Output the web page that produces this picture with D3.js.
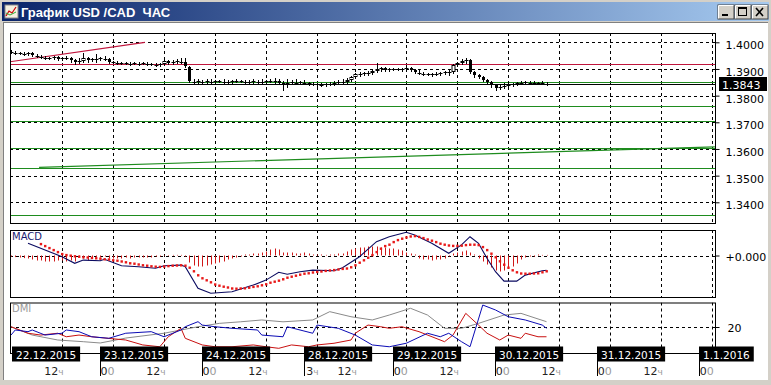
<!DOCTYPE html>
<html><head><meta charset="utf-8">
<script src="https://cdn.jsdelivr.net/npm/d3@7"></script>
<style>body{margin:0;background:#fff;overflow:hidden}svg{display:block}.pre{white-space:pre}</style>
</head><body><svg id="c" width="771" height="385"></svg>
<script>
// ---------------- DATA ----------------
const chartTitle = "График USD /CAD  ЧАС";
const openP = [1.3967,1.3964,1.3960,1.3960,1.3956,1.3960,1.3952,1.3949,1.3945,1.3941,1.3941,1.3945,1.3937,1.3941,1.3941,1.3934,1.3926,1.3930,1.3941,1.3934,1.3937,1.3937,1.3941,1.3937,1.3926,1.3926,1.3922,1.3922,1.3922,1.3919,1.3922,1.3919,1.3922,1.3919,1.3919,1.3915,1.3919,1.3930,1.3922,1.3926,1.3930,1.3926,1.3907,1.3855,1.3851,1.3855,1.3851,1.3855,1.3851,1.3855,1.3855,1.3851,1.3851,1.3855,1.3855,1.3855,1.3851,1.3851,1.3855,1.3851,1.3851,1.3855,1.3855,1.3855,1.3847,1.3840,1.3847,1.3851,1.3847,1.3851,1.3847,1.3847,1.3844,1.3844,1.3840,1.3844,1.3844,1.3847,1.3851,1.3851,1.3859,1.3870,1.3881,1.3881,1.3885,1.3885,1.3892,1.3900,1.3904,1.3896,1.3900,1.3900,1.3900,1.3900,1.3904,1.3896,1.3889,1.3885,1.3881,1.3881,1.3881,1.3881,1.3885,1.3885,1.3889,1.3915,1.3922,1.3930,1.3934,1.3889,1.3877,1.3870,1.3859,1.3851,1.3840,1.3829,1.3832,1.3836,1.3840,1.3844,1.3847,1.3847,1.3851,1.3847,1.3847,1.3847,1.3847];
const highP = [1.3971,1.3967,1.3964,1.3964,1.3964,1.3964,1.3956,1.3952,1.3949,1.3945,1.3949,1.3949,1.3945,1.3949,1.3945,1.3937,1.3941,1.3960,1.3945,1.3941,1.3956,1.3945,1.3949,1.3941,1.3930,1.3930,1.3926,1.3926,1.3926,1.3926,1.3926,1.3926,1.3926,1.3922,1.3922,1.3922,1.3945,1.3934,1.3934,1.3937,1.3941,1.3941,1.3911,1.3862,1.3862,1.3859,1.3862,1.3862,1.3859,1.3859,1.3862,1.3859,1.3859,1.3862,1.3859,1.3859,1.3859,1.3862,1.3859,1.3862,1.3859,1.3862,1.3866,1.3862,1.3855,1.3862,1.3859,1.3862,1.3855,1.3859,1.3851,1.3851,1.3847,1.3847,1.3847,1.3851,1.3855,1.3859,1.3862,1.3866,1.3874,1.3885,1.3889,1.3889,1.3892,1.3900,1.3922,1.3907,1.3907,1.3904,1.3904,1.3904,1.3904,1.3911,1.3907,1.3900,1.3896,1.3889,1.3885,1.3885,1.3889,1.3889,1.3892,1.3896,1.3919,1.3926,1.3937,1.3941,1.3937,1.3892,1.3881,1.3874,1.3862,1.3855,1.3844,1.3840,1.3847,1.3851,1.3847,1.3851,1.3855,1.3855,1.3855,1.3855,1.3851,1.3855,1.3851];
const lowP = [1.3960,1.3956,1.3956,1.3952,1.3952,1.3949,1.3945,1.3941,1.3937,1.3937,1.3937,1.3934,1.3934,1.3937,1.3926,1.3919,1.3922,1.3926,1.3926,1.3930,1.3926,1.3934,1.3934,1.3922,1.3922,1.3919,1.3919,1.3919,1.3915,1.3919,1.3915,1.3919,1.3915,1.3915,1.3911,1.3911,1.3915,1.3919,1.3919,1.3922,1.3922,1.3907,1.3851,1.3847,1.3847,1.3847,1.3847,1.3847,1.3847,1.3851,1.3847,1.3847,1.3847,1.3851,1.3851,1.3847,1.3844,1.3847,1.3847,1.3844,1.3847,1.3851,1.3847,1.3844,1.3821,1.3832,1.3844,1.3844,1.3844,1.3844,1.3840,1.3840,1.3836,1.3836,1.3836,1.3840,1.3840,1.3844,1.3847,1.3847,1.3855,1.3866,1.3874,1.3877,1.3877,1.3881,1.3889,1.3892,1.3892,1.3892,1.3896,1.3896,1.3892,1.3896,1.3892,1.3885,1.3881,1.3877,1.3877,1.3874,1.3877,1.3877,1.3881,1.3877,1.3885,1.3911,1.3919,1.3922,1.3885,1.3870,1.3866,1.3855,1.3844,1.3832,1.3821,1.3825,1.3829,1.3832,1.3836,1.3840,1.3844,1.3844,1.3844,1.3844,1.3844,1.3844,1.3840];
const closeP = [1.3964,1.3960,1.3960,1.3956,1.3960,1.3952,1.3949,1.3945,1.3941,1.3941,1.3945,1.3937,1.3941,1.3941,1.3934,1.3926,1.3930,1.3941,1.3934,1.3937,1.3937,1.3941,1.3937,1.3926,1.3926,1.3922,1.3922,1.3922,1.3919,1.3922,1.3919,1.3922,1.3919,1.3919,1.3915,1.3919,1.3930,1.3922,1.3926,1.3930,1.3926,1.3911,1.3855,1.3851,1.3855,1.3851,1.3855,1.3851,1.3855,1.3855,1.3851,1.3851,1.3855,1.3855,1.3855,1.3851,1.3851,1.3855,1.3851,1.3851,1.3855,1.3855,1.3855,1.3847,1.3840,1.3847,1.3851,1.3847,1.3851,1.3847,1.3847,1.3844,1.3844,1.3840,1.3844,1.3844,1.3847,1.3851,1.3851,1.3859,1.3870,1.3881,1.3881,1.3885,1.3885,1.3892,1.3900,1.3904,1.3896,1.3900,1.3900,1.3900,1.3900,1.3904,1.3896,1.3889,1.3885,1.3881,1.3881,1.3881,1.3881,1.3885,1.3889,1.3889,1.3915,1.3922,1.3930,1.3934,1.3889,1.3877,1.3870,1.3859,1.3851,1.3840,1.3829,1.3832,1.3836,1.3840,1.3844,1.3847,1.3847,1.3851,1.3847,1.3847,1.3847,1.3847,1.3843];

const priceTicks = [1.4000,1.3900,1.3800,1.3700,1.3600,1.3500,1.3400];
const lastPrice = 1.3843;
const redLevels = [1.39175];
const redTrend = [[0,1.3927],[31.5,1.4000]];
const greenLevels = [1.3852,1.3760,1.3705,1.3604,1.3530,1.3352];
const greenTrend = [[6.6,1.3531],[165.6,1.3608]];

const gridIdx = [12,24,36,48,60,72,81,93,105,117,129,141,153,165];
const hourLabels = [["12","ч"],["0","0"],["12","ч"],["0","0"],["12","ч"],["3","ч"],["12","ч"],["0","0"],["12","ч"],["0","0"],["12","ч"],["0","0"],["12","ч"],["0","0"]];
const dayLabels = ["22.12.2015","23.12.2015","24.12.2015","28.12.2015","29.12.2015","30.12.2015","31.12.2015","1.1.2016"];
const dayStartIdx = [0,24,48,72,93,117,141,165];

const macdIdx = [4,12,15,17,21,22,26,30,34,36,40,41,44,47,52,57,60,63,65,68,71,76,78,82,86,89,93,95,99,103,106,108,110,112,114,116,119,121,125,126];
const macdVal = [0.00061,-0.00006,-0.00039,-0.00023,-0.00026,-0.00019,-0.00051,-0.00056,-0.00064,-0.00051,-0.00048,-0.00056,-0.00164,-0.00189,-0.00181,-0.00148,-0.00123,-0.00084,-0.00094,-0.00081,-0.00073,-0.00076,-0.00061,-0.00006,0.00069,0.00094,0.00116,0.00103,0.00061,0.00011,0.00053,0.00094,0.00061,-0.00014,-0.00081,-0.00128,-0.00128,-0.00098,-0.00076,-0.00074];
const signalStart = 7;
const signalVal = [0.00058,0.00048,0.00038,0.00028,0.00018,0.00008,0.00003,0,-0.00003,-0.00005,-0.00008,-0.00009,-0.00011,-0.00013,-0.00015,-0.00018,-0.00019,-0.00023,-0.00025,-0.00029,-0.00033,-0.00038,-0.00040,-0.00044,-0.00048,-0.00050,-0.00053,-0.00055,-0.00056,-0.00054,-0.00052,-0.00050,-0.00049,-0.00048,-0.00050,-0.00060,-0.00078,-0.00098,-0.00113,-0.00123,-0.00133,-0.00144,-0.00150,-0.00155,-0.00159,-0.00164,-0.00165,-0.00164,-0.00163,-0.00160,-0.00156,-0.00153,-0.00148,-0.00143,-0.00135,-0.00130,-0.00125,-0.00118,-0.00110,-0.00105,-0.00100,-0.00095,-0.00090,-0.00088,-0.00084,-0.00081,-0.00079,-0.00076,-0.00074,-0.00072,-0.00069,-0.00066,-0.00064,-0.00058,-0.00048,-0.00035,-0.00023,-0.00010,0.00003,0.00018,0.00035,0.00048,0.00055,0.00068,0.00078,0.00085,0.00091,0.00096,0.00098,0.00094,0.00088,0.00081,0.00075,0.00068,0.00060,0.00055,0.00051,0.00049,0.00049,0.00050,0.00053,0.00055,0.00055,0.00053,0.00043,0.00028,0.00010,-0.00008,-0.00028,-0.00045,-0.00060,-0.00073,-0.00083,-0.00089,-0.00090,-0.00090,-0.00089,-0.00088,-0.00083,-0.00078];
const histVal = [-0.00005,-0.00008,-0.0001,-0.00013,-0.00015,-0.0002,-0.00025,-0.00025,-0.0003,-0.0003,-0.0003,-0.00025,-0.00025,-0.0003,-0.00025,-0.0003,-0.0001,-0.00015,-0.00025,-0.00015,-0.0001,-0.0001,-0.00005,-0.00015,-0.00015,-0.00015,-0.00015,-0.0001,-0.00015,-0.0001,-0.0001,-0.0001,-0.0001,-0.0001,-0.00005,-0.00005,0.00003,-0.00003,0.00003,0.00003,0.00003,-0.00005,-0.00035,-0.0005,-0.00055,-0.00055,-0.0005,-0.00045,-0.0004,-0.00035,-0.0003,-0.0002,-0.00015,-0.0001,-0.00005,0.00005,0.00005,0.0001,0.0001,0.00015,0.0002,0.0003,0.00035,0.0003,0.00015,0.00015,0.00015,0.0001,0.0001,0.00015,0.0001,0.00005,0.00005,0.00005,0.00003,0.00005,0.00005,0.0001,0.0001,0.0002,0.0003,0.00035,0.0004,0.0004,0.00045,0.00045,0.00045,0.0004,0.0004,0.00035,0.00035,0.0003,0.00025,0.00015,0.0001,0.00005,-0.00015,-0.0002,-0.0002,-0.00025,-0.0002,-0.0002,-0.00015,-0.00005,0.0001,0.00015,0.0002,0.00025,0.00015,0.00005,-0.00015,-0.0003,-0.00045,-0.0006,-0.00075,-0.0008,-0.00075,-0.00065,-0.00055,-0.0004,-0.0002,-0.0001,-0.00005,-0.00005,0.00005,0.00003,0.00003];

const adxIdx = [0,5,11,17,21,27,36,40,44,49,54,59,64,71,75,80,85,89,94,98,102,106,110,116,120,124,126];
const adxVal = [20.2,13.8,10,8.7,7.7,11.5,15.2,17.7,20.2,22.8,24,25.4,24,25.4,31.8,27.9,25.4,29.2,34.4,29.2,19,19,22.8,29.2,30.5,26.2,24.1];
const plusIdx = [0,1,4,5,8,12,13,16,19,23,27,33,36,40,41,44,45,48,52,58,59,64,65,68,71,72,77,81,85,89,93,98,101,103,106,108,111,114,117,121,125,126];
const plusVal = [13.8,17.7,16.4,17.7,13.8,15.2,17.7,16.4,12.5,11.3,15.2,16.4,12.5,17.7,20.2,24.1,21.5,20.2,19,17.7,13.8,12.5,20.2,17.7,15.2,21.5,19,13.8,6.2,4.8,7.5,15.2,12.5,15.2,8.7,4.8,36.9,33.1,27.9,25.4,21.5,19];
const minusIdx = [0,4,7,11,13,16,19,27,31,35,37,40,41,45,48,52,57,60,63,66,70,72,76,80,81,84,87,89,92,96,102,104,107,110,112,115,117,120,121,124,126];
const minusVal = [20.2,15.2,13.8,15.2,12.5,13.8,12.5,10,6.2,4.8,12.5,19,11.3,6.2,4.8,4.8,6.2,4.8,3.6,6.2,4.8,6.2,7.5,10,15.2,21.5,20.2,19,20.2,16.4,8.7,13.8,30.5,21.5,15.2,10,13.8,11.3,15.2,12.5,12.5];
const dmiLevel = 20;

// ---------------- DRAW ----------------
const svg = d3.select('#c');
const FONT = "'DejaVu Sans', Verdana, sans-serif";
const L = 10, R = 715;
const main = {t:33, b:223}, mp = {t:230, b:297}, dp = {t:302.5, b:353};

const x = d3.scaleLinear().domain([0,165]).range([11,712.25]);
const yP = d3.scaleLinear().domain([1.34,1.40]).range([202.3,42.3]);
const yM = d3.scaleLinear().domain([-0.002075,0.001275]).range([297,230]);
const yD = d3.scaleLinear().domain([0,38.85]).range([353,302.5]);
const px = v => Math.round(v)+0.5;

// window frame
svg.append('rect').attr('width',771).attr('height',385).attr('fill','#d4d0c8');
svg.append('rect').attr('x',3).attr('y',22).attr('width',765).attr('height',358).attr('fill','#fff');
svg.append('line').attr('x1',3.5).attr('x2',3.5).attr('y1',22).attr('y2',380).attr('stroke','#808080');
svg.append('line').attr('x1',3).attr('x2',768).attr('y1',22.5).attr('y2',22.5).attr('stroke','#808080');
const grad = svg.append('defs').append('linearGradient').attr('id','tb');
grad.append('stop').attr('offset','0%').attr('stop-color','#0a246a');
grad.append('stop').attr('offset','100%').attr('stop-color','#a6caf0');
svg.append('rect').attr('x',2).attr('y',2).attr('width',767).attr('height',19).attr('fill','url(#tb)');
// icon
svg.append('rect').attr('x',5).attr('y',5).attr('width',13).attr('height',13).attr('fill','#f4f0e0').attr('stroke','#888');
svg.append('polyline').attr('points','6,16 9,11 12,13 16,7').attr('fill','none').attr('stroke','#c00').attr('stroke-width',1.2);
svg.append('polyline').attr('points','6,13 10,15 16,12').attr('fill','none').attr('stroke','#3a3').attr('stroke-width',1);
svg.append('text').attr('class','pre').attr('x',21).attr('y',16.5).attr('fill','#fff').attr('font-family',"'Liberation Sans Narrow','Liberation Sans',Arial,sans-serif")
  .attr('font-weight','bold').attr('font-size',13).text(chartTitle);
// buttons
['_','□','X'].forEach((s,k)=>{
  const bx = 718 + k*17;
  svg.append('rect').attr('x',bx).attr('y',5).attr('width',16).attr('height',14).attr('fill','#d4d0c8').attr('stroke','#404040');
  svg.append('path').attr('d',`M${bx+0.5},${18.5}V5.5H${bx+15.5}`).attr('fill','none').attr('stroke','#fff');
  if(k===0) svg.append('rect').attr('x',bx+4).attr('y',14).attr('width',6).attr('height',2).attr('fill','#000');
  if(k===1){ svg.append('rect').attr('x',bx+3.5).attr('y',7.5).attr('width',8).attr('height',8).attr('fill','none').attr('stroke','#000');
             svg.append('line').attr('x1',bx+3.5).attr('x2',bx+11.5).attr('y1',8.5).attr('y2',8.5).attr('stroke','#000');}
  if(k===2){ svg.append('path').attr('d',`M${bx+4},8L${bx+11},16M${bx+11},8L${bx+4},16`).attr('stroke','#000').attr('stroke-width',1.6);}
});

function dashedH(g,y){ g.append('line').attr('x1',L).attr('x2',R).attr('y1',px(y)).attr('y2',px(y)).attr('stroke','#000').attr('stroke-dasharray','3,3'); }
function dashedV(g,t,b){ gridIdx.forEach(i=>{ g.append('line').attr('x1',px(x(i))).attr('x2',px(x(i))).attr('y1',t).attr('y2',b).attr('stroke','#000').attr('stroke-dasharray','3,3'); }); }
function clip(id,t,b){ svg.append('clipPath').attr('id',id).append('rect').attr('x',L).attr('y',t).attr('width',R-L).attr('height',b-t); }

// ---------- main panel ----------
clip('cm',main.t,main.b);
const gm = svg.append('g').attr('clip-path','url(#cm)');
priceTicks.forEach(p=>dashedH(gm,yP(p)));
dashedV(gm,main.t,main.b);
greenLevels.forEach(p=>gm.append('line').attr('x1',L).attr('x2',R).attr('y1',px(yP(p))).attr('y2',px(yP(p))).attr('stroke','#1e8c1e'));
gm.append('line').attr('x1',x(greenTrend[0][0])).attr('y1',yP(greenTrend[0][1])).attr('x2',x(greenTrend[1][0])).attr('y2',yP(greenTrend[1][1])).attr('stroke','#1e8c1e').attr('stroke-width',1.2);
redLevels.forEach(p=>gm.append('line').attr('x1',L).attr('x2',R).attr('y1',px(yP(p))).attr('y2',px(yP(p))).attr('stroke','#c0143c'));
gm.append('line').attr('x1',x(redTrend[0][0])-1).attr('y1',yP(redTrend[0][1])).attr('x2',x(redTrend[1][0])).attr('y2',yP(redTrend[1][1])).attr('stroke','#c0143c').attr('stroke-width',1.2);
gm.append('line').attr('x1',L).attr('x2',R).attr('y1',px(yP(lastPrice))).attr('y2',px(yP(lastPrice))).attr('stroke','#000');

const cd = d3.range(closeP.length).map(i=>({i,o:openP[i],h:highP[i],l:lowP[i],c:closeP[i]}));
const gc = gm.append('g');
gc.selectAll('line.w').data(cd).join('line').attr('x1',d=>px(x(d.i))).attr('x2',d=>px(x(d.i)))
  .attr('y1',d=>Math.round(yP(d.h))).attr('y2',d=>Math.round(yP(d.l))+1).attr('stroke','#000');
cd.forEach(d=>{
  const xc = px(x(d.i)), yo = yP(d.o), yc = yP(d.c);
  if(Math.abs(yo-yc) < 1.2){
    gc.append('line').attr('x1',xc-2).attr('x2',xc+2).attr('y1',px(yc)).attr('y2',px(yc)).attr('stroke','#000');
  } else if(d.c < d.o){
    gc.append('rect').attr('x',xc-1.5).attr('width',3).attr('y',Math.round(yo)).attr('height',Math.max(1,Math.round(yc-yo))).attr('fill','#000');
  } else {
    gc.append('rect').attr('x',xc-1.5).attr('width',3).attr('y',Math.round(yc)+0.5).attr('height',Math.max(1,Math.round(yo-yc)-1)).attr('fill','#fff').attr('stroke','#000');
  }
});
svg.append('rect').attr('x',L+0.5).attr('y',main.t+0.5).attr('width',R-L).attr('height',main.b-main.t).attr('fill','none').attr('stroke','#000');

// price axis
const ax = svg.append('g').attr('transform',`translate(${R+0.5},0)`)
  .call(d3.axisRight(yP).tickValues(priceTicks).tickFormat(d3.format('.4f')).tickSize(4).tickPadding(6));
ax.select('.domain').remove();
ax.selectAll('text').attr('font-family',FONT).attr('font-size',11).attr('fill','#000').attr('dy','0.6em');
ax.selectAll('line').attr('stroke','#000');
svg.append('rect').attr('x',719).attr('y',Math.round(yP(lastPrice))-7).attr('width',48).attr('height',14).attr('fill','#000');
svg.append('text').attr('x',722).attr('y',Math.round(yP(lastPrice))+4.5).attr('fill','#fff').attr('font-family',FONT).attr('font-size',11).text(d3.format('.4f')(lastPrice));

// ---------- MACD panel ----------
clip('cmacd',mp.t,mp.b);
const gmc = svg.append('g').attr('clip-path','url(#cmacd)');
dashedH(gmc,yM(0));
dashedV(gmc,mp.t,mp.b);
gmc.selectAll('line.h').data(histVal).join('line').attr('x1',(d,i)=>px(x(i))).attr('x2',(d,i)=>px(x(i)))
  .attr('y1',yM(0)).attr('y2',d=>yM(d)).attr('stroke','#d01818');
gmc.append('path').datum(macdIdx.map((i,k)=>[i,macdVal[k]]))
  .attr('d',d3.line().x(d=>x(d[0])).y(d=>yM(d[1]))).attr('fill','none').attr('stroke','#0a0a60').attr('stroke-width',1.1);
gmc.selectAll('rect.s').data(signalVal).join('rect').attr('x',(d,i)=>x(i+signalStart)-1).attr('y',d=>yM(d)-1)
  .attr('width',2.4).attr('height',2.4).attr('fill','#e81818');
svg.append('rect').attr('x',L+0.5).attr('y',mp.t+0.5).attr('width',R-L).attr('height',mp.b-mp.t).attr('fill','none').attr('stroke','#000');
svg.append('text').attr('x',12).attr('y',240).attr('font-family',FONT).attr('font-size',10).attr('fill','#1a1a70').text('MACD');
const am = svg.append('g').attr('transform',`translate(${R+0.5},0)`)
  .call(d3.axisRight(yM).tickValues([0]).tickFormat(()=>'+0.000').tickSize(4).tickPadding(6));
am.select('.domain').remove();
am.selectAll('text').attr('font-family',FONT).attr('font-size',11).attr('fill','#000').attr('dy','0.45em');

// ---------- DMI panel ----------
clip('cdmi',dp.t,dp.b);
const gd = svg.append('g').attr('clip-path','url(#cdmi)');
dashedH(gd,yD(dmiLevel));
dashedV(gd,dp.t,dp.b);
const ld = d3.line().x(d=>x(d[0])).y(d=>yD(d[1]));
gd.append('path').datum(adxIdx.map((i,k)=>[i,adxVal[k]])).attr('d',ld).attr('fill','none').attr('stroke','#8a8a8a');
gd.append('path').datum(minusIdx.map((i,k)=>[i,minusVal[k]])).attr('d',ld).attr('fill','none').attr('stroke','#c81010');
gd.append('path').datum(plusIdx.map((i,k)=>[i,plusVal[k]])).attr('d',ld).attr('fill','none').attr('stroke','#0a0ab4');
svg.append('rect').attr('x',L+0.5).attr('y',dp.t+0.5).attr('width',R-L).attr('height',dp.b-dp.t).attr('fill','none').attr('stroke','#000');
svg.append('text').attr('x',12).attr('y',312).attr('font-family',FONT).attr('font-size',10).attr('fill','#9a9a9a').text('DMI');
const ad = svg.append('g').attr('transform',`translate(${R+0.5},0)`)
  .call(d3.axisRight(yD).tickValues([dmiLevel]).tickSize(4).tickPadding(8));
ad.select('.domain').remove();
ad.selectAll('text').attr('font-family',FONT).attr('font-size',11).attr('fill','#000').attr('dy','0.45em');

// ---------- time axis ----------
const gt = svg.append('g');
dayLabels.forEach((lab,k)=>{
  const bx = Math.max(12, Math.round(x(dayStartIdx[k]) - 13.5));
  const t = gt.append('text').attr('x',bx+4).attr('y',358.5).attr('font-family',FONT).attr('font-size',10.5).attr('fill','#fff').text(lab);
  const w = t.node().getComputedTextLength();
  gt.insert('rect','text').attr('x',bx).attr('y',346.5).attr('width',w+8).attr('height',15).attr('fill','#000');
  if(k>0) gt.append('line').attr('x1',bx+0.5).attr('x2',bx+0.5).attr('y1',361).attr('y2',376).attr('stroke','#000');
});
gridIdx.forEach((i,k)=>{
  const t = gt.append('text').attr('x',x(i)+1.5).attr('y',375).attr('text-anchor','end').attr('font-family',FONT).attr('font-size',11);
  t.append('tspan').attr('fill','#222').text(hourLabels[k][0]);
  t.append('tspan').attr('fill','#9a9a9a').attr('font-size',hourLabels[k][1]==='ч'?9:11).text(hourLabels[k][1]);
});
</script></body></html>
